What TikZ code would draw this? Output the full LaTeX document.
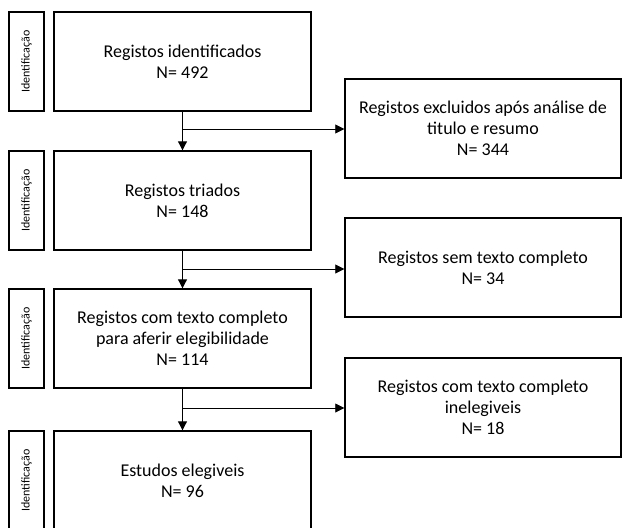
\documentclass[tikz,border=0pt]{standalone}
\usepackage{fontspec}
\setmainfont{Carlito}
\usetikzlibrary{arrows.meta}
\begin{document}
\begin{tikzpicture}[x=1pt,y=-1pt,
  mainbox/.style={draw,line width=1.4pt,minimum width=257pt,minimum height=99pt,align=center,font=\fontsize{18}{21}\selectfont,inner sep=0pt},
  sidebox/.style={draw,line width=1.4pt,minimum width=99pt,minimum height=35pt,rotate=90,font=\fontsize{12}{14}\selectfont,inner sep=0pt},
  rightbox/.style={draw,line width=1.4pt,minimum width=276pt,minimum height=99pt,align=center,font=\fontsize{18}{21}\selectfont,inner sep=0pt},
  flow/.style={line width=1pt,-{Triangle[length=9pt,width=9pt]}},
  branch/.style={line width=0.8pt,-{Triangle[length=9pt,width=9pt]}}]
\useasboundingbox (0,0) rectangle (623,527);
\node[mainbox] (m1) at (182.5,61.5) {Registos identificados\\N= 492};
\node[mainbox] (m2) at (182.5,200.5) {Registos triados\\N= 148};
\node[mainbox] (m3) at (182.5,338.5) {Registos com texto completo\\para aferir elegibilidade\\N= 114};
\node[mainbox] (m4) at (182.5,480.5) {Estudos elegiveis\\N= 96};
\node[sidebox] (s1) at (26.5,61.5) {Identificação};
\node[sidebox] (s2) at (26.5,200.5) {Identificação};
\node[sidebox] (s3) at (26.5,338.5) {Identificação};
\node[sidebox] (s4) at (26.5,480.5) {Identificação};
\node[rightbox] (r1) at (483,128.5) {Registos excluidos após análise de\\titulo e resumo\\N= 344};
\node[rightbox] (r2) at (483,267.5) {Registos sem texto completo\\N= 34};
\node[rightbox] (r3) at (483,407.5) {Registos com texto completo\\inelegiveis\\N= 18};
\coordinate (b1) at (m1.south |- 0,129);
\coordinate (b2) at (m2.south |- 0,269);
\coordinate (b3) at (m3.south |- 0,408);
\draw[flow] (m1.south) -- (m2.north);
\draw[flow] (m2.south) -- (m3.north);
\draw[flow] (m3.south) -- (m4.north);
\draw[branch] (b1) -- (b1 -| r1.west);
\draw[branch] (b2) -- (b2 -| r2.west);
\draw[branch] (b3) -- (b3 -| r3.west);
\end{tikzpicture}
\end{document}
